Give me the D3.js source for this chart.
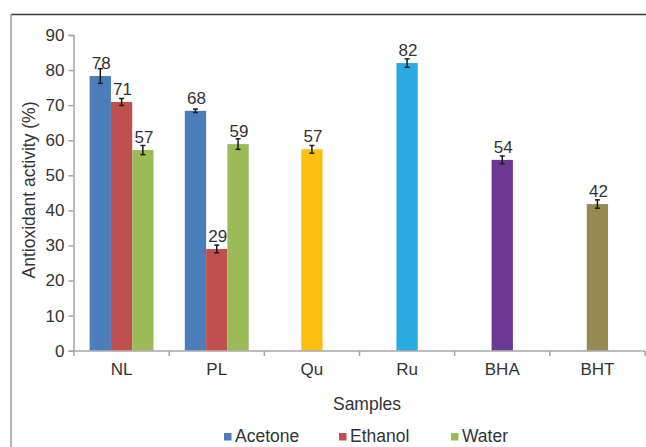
<!DOCTYPE html>
<html>
<head>
<meta charset="utf-8">
<script src="https://cdn.jsdelivr.net/npm/d3@7"></script>
<style>
  body { margin: 0; background: #fff; }
  text { font-family: "Liberation Sans", Arial, sans-serif; fill: #333; }
</style>
</head>
<body>
<div id="container"></div>
<script>
const width = 646;
const height = 447;

// data
const categories = ["NL", "PL", "Qu", "Ru", "BHA", "BHT"];
const seriesNames = ["Acetone", "Ethanol", "Water"];
const extractCats = ["NL", "PL"];
const acetoneVals = [78.3, 68.4];
const acetoneErr = [2.1, 0.5];
const ethanolVals = [70.9, 29.0];
const ethanolErr = [1.0, 1.1];
const waterVals = [57.2, 58.9];
const waterErr = [1.3, 1.5];
const standardCats = ["Qu", "Ru", "BHA", "BHT"];
const standardVals = [57.4, 82.0, 54.4, 41.8];
const standardErr = [1.1, 1.2, 1.1, 1.2];
const yTicks = [0, 10, 20, 30, 40, 50, 60, 70, 80, 90];

const seriesColor = {Acetone: "#4a7ebb", Ethanol: "#c0504d", Water: "#9bbb59"};
const standardColor = {Qu: "#fdc010", Ru: "#29abe2", BHA: "#6c3893", BHT: "#958b52"};

const viz = d3.select("#container").append("svg").attr("width", width).attr("height", height);

// frame
viz.append("line").attr("x1", 11).attr("x2", width).attr("y1", 14.5).attr("y2", 14.5)
  .attr("stroke", "#3a3a3a").attr("stroke-width", 1.5);
viz.append("line").attr("x1", 11).attr("x2", 11).attr("y1", 14).attr("y2", height)
  .attr("stroke", "#999").attr("stroke-width", 1.5);

const xScale = d3.scaleBand().domain(categories).range([74, 645]);
const yScale = d3.scaleLinear().domain([0, 90]).range([350.7, 35]);
const barW = 21.3;
const inner = d3.scaleBand().domain(seriesNames).range([0, barW * 3]);

// build bar records
let bars = [];
const vals = {Acetone: acetoneVals, Ethanol: ethanolVals, Water: waterVals};
const errs = {Acetone: acetoneErr, Ethanol: ethanolErr, Water: waterErr};
seriesNames.forEach(s => {
  extractCats.forEach((c, i) => {
    bars.push({cat: c, x: xScale(c) + (xScale.bandwidth() - barW * 3) / 2 + inner(s),
      v: vals[s][i], e: errs[s][i], color: seriesColor[s]});
  });
});
standardCats.forEach((c, i) => {
  bars.push({cat: c, x: xScale(c) + (xScale.bandwidth() - barW) / 2,
    v: standardVals[i], e: standardErr[i], color: standardColor[c]});
});

// y axis
let yAxisGroup = viz.append("g").attr("transform", "translate(73.5,0)")
  .call(d3.axisLeft(yScale).tickValues(yTicks).tickSize(5).tickPadding(4));
yAxisGroup.select(".domain").attr("stroke", "#a6a6a6").attr("stroke-width", 1.5);
yAxisGroup.selectAll(".tick line").attr("stroke", "#a6a6a6").attr("stroke-width", 1.5);
yAxisGroup.selectAll(".tick text").attr("font-size", 17).attr("font-family", null).attr("fill", "#333");
yAxisGroup.attr("font-family", null);

// bars
let barGroup = viz.append("g");
barGroup.selectAll("rect").data(bars).enter().append("rect")
  .attr("x", d => d.x).attr("width", barW)
  .attr("y", d => yScale(d.v)).attr("height", d => yScale(0) - yScale(d.v))
  .attr("fill", d => d.color);

// error bars
let errG = barGroup.selectAll(".err").data(bars).enter().append("g").attr("class", "err")
  .attr("stroke", "#1a1a1a").attr("stroke-width", 1.5);
errG.append("line").attr("x1", d => d.x + barW / 2).attr("x2", d => d.x + barW / 2)
  .attr("y1", d => yScale(d.v + d.e)).attr("y2", d => yScale(d.v - d.e));
errG.append("line").attr("x1", d => d.x + barW / 2 - 2.5).attr("x2", d => d.x + barW / 2 + 2.5)
  .attr("y1", d => yScale(d.v + d.e)).attr("y2", d => yScale(d.v + d.e));
errG.append("line").attr("x1", d => d.x + barW / 2 - 2.5).attr("x2", d => d.x + barW / 2 + 2.5)
  .attr("y1", d => yScale(d.v - d.e)).attr("y2", d => yScale(d.v - d.e));

// value labels
barGroup.selectAll(".lbl").data(bars).enter().append("text").attr("class", "lbl")
  .attr("x", d => d.x + barW / 2 + 1).attr("y", d => yScale(d.v) - 7)
  .attr("text-anchor", "middle").attr("font-size", 17)
  .text(d => Math.round(d.v));

// x axis
let xAxisGroup = viz.append("g").attr("transform", "translate(0,351)")
  .call(d3.axisBottom(xScale).tickSize(0).tickPadding(12));
xAxisGroup.select(".domain").remove();
xAxisGroup.attr("font-family", null);
xAxisGroup.selectAll(".tick text").attr("font-size", 17).attr("fill", "#333").attr("dy", "0.71em");
xAxisGroup.append("line").attr("x1", 73.5).attr("x2", 645).attr("y1", 0).attr("y2", 0)
  .attr("stroke", "#a6a6a6").attr("stroke-width", 1.5);
const bounds = categories.map(c => xScale(c)).concat([xScale.range()[1]]);
xAxisGroup.selectAll(".bound").data(bounds).enter().append("line").attr("class", "bound")
  .attr("x1", d => d).attr("x2", d => d).attr("y1", 0).attr("y2", 5)
  .attr("stroke", "#a6a6a6").attr("stroke-width", 1.5);

// axis titles
viz.append("text").text("Samples").attr("x", 367).attr("y", 410)
  .attr("text-anchor", "middle").attr("font-size", 17.5);
viz.append("text").text("Antioxidant activity (%)")
  .attr("transform", "translate(35,190) rotate(-90)")
  .attr("text-anchor", "middle").attr("font-size", 17.5);

// legend
const legendX = [224, 339, 451];
let legend = viz.selectAll(".legend").data(seriesNames).enter().append("g").attr("class", "legend")
  .attr("transform", (d, i) => `translate(${legendX[i]},0)`);
legend.append("rect").attr("x", 0).attr("y", 433).attr("width", 7.5).attr("height", 7.5)
  .attr("fill", d => seriesColor[d]);
legend.append("text").attr("x", 11).attr("y", 442).attr("font-size", 17.5).text(d => d);
</script>
</body>
</html>
